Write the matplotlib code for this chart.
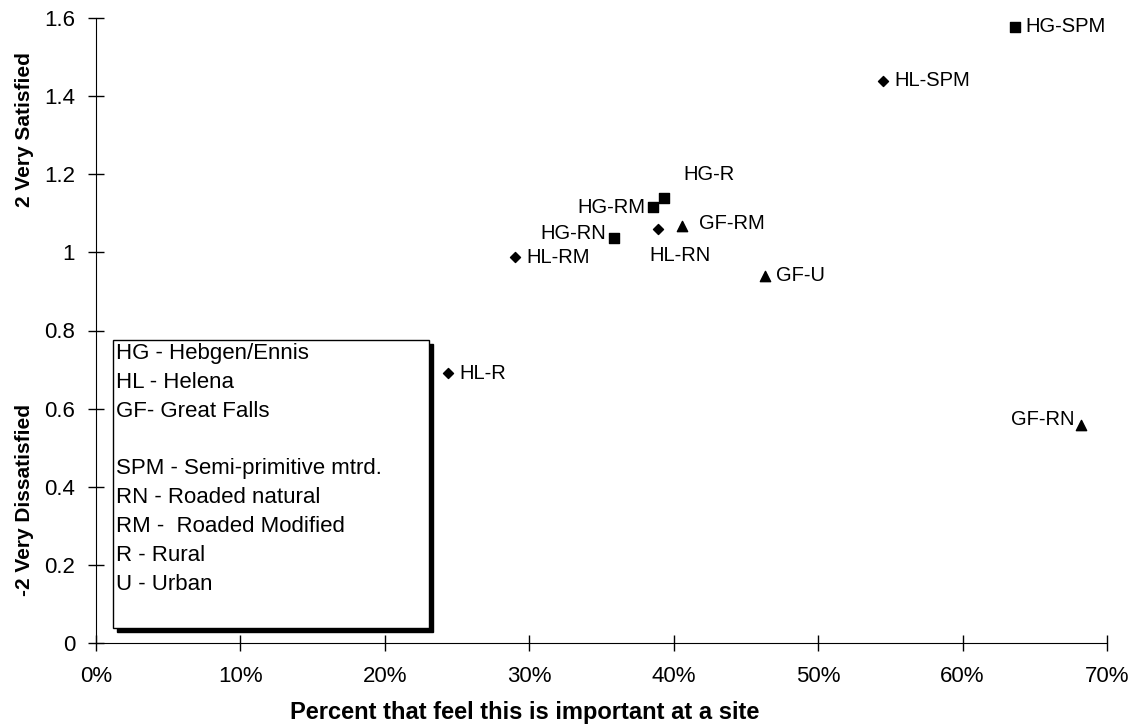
import numpy as np
import matplotlib.pyplot as plt
from matplotlib.patches import Rectangle
from matplotlib.ticker import FuncFormatter

plt.rcParams['font.family'] = ['Liberation Sans', 'DejaVu Sans']

# Hebgen/Ennis sites (squares)
hg_names = ['HG-SPM', 'HG-R', 'HG-RM', 'HG-RN']
hg_pct = [0.636, 0.393, 0.386, 0.359]
hg_sat = [1.577, 1.139, 1.116, 1.037]

# Helena sites (diamonds)
hl_names = ['HL-SPM', 'HL-RN', 'HL-RM', 'HL-R']
hl_pct = [0.545, 0.389, 0.290, 0.244]
hl_sat = [1.439, 1.060, 0.988, 0.691]

# Great Falls sites (triangles)
gf_names = ['GF-RM', 'GF-U', 'GF-RN']
gf_pct = [0.406, 0.463, 0.682]
gf_sat = [1.068, 0.940, 0.558]

# where each label sits relative to its point (offset in points, ha, va)
label_pos = {
    'HG-SPM': ((8, 0), 'left', 'center'),
    'HG-R': ((14, 10), 'left', 'bottom'),
    'HG-RM': ((-6, 0), 'right', 'center'),
    'HG-RN': ((-6, 3), 'right', 'center'),
    'HL-SPM': ((8, 0), 'left', 'center'),
    'HL-RN': ((16, -12), 'center', 'top'),
    'HL-RM': ((8, 0), 'left', 'center'),
    'HL-R': ((8, 0), 'left', 'center'),
    'GF-RM': ((12, 2), 'left', 'center'),
    'GF-U': ((8, 0), 'left', 'center'),
    'GF-RN': ((-5, 4), 'right', 'center'),
}

W, H = 1136, 727
fig = plt.figure(figsize=(W / 100, H / 100), dpi=100)
ax = fig.add_axes([96 / W, 1 - 643 / H, 1011 / W, 625 / H])

ax.scatter(hg_pct, hg_sat, marker='s', s=50, c='black', zorder=3)
ax.scatter(hl_pct, hl_sat, marker='D', s=26, c='black', zorder=3)
ax.scatter(gf_pct, gf_sat, marker='^', s=55, c='black', zorder=3)

for names, xs, ys in [(hg_names, hg_pct, hg_sat), (hl_names, hl_pct, hl_sat),
                      (gf_names, gf_pct, gf_sat)]:
    for n, x, y in zip(names, xs, ys):
        off, ha, va = label_pos[n]
        ax.annotate(n, (x, y), xytext=off, textcoords='offset points',
                    ha=ha, va=va, fontsize=14.5)

ax.set_xlim(0, 0.7)
ax.set_ylim(0, 1.6)
ax.set_xticks(np.arange(0, 0.71, 0.1))
ax.set_yticks(np.arange(0, 1.61, 0.2))
ax.xaxis.set_major_formatter(FuncFormatter(lambda v, p: '%d%%' % round(v * 100)))
ax.yaxis.set_major_formatter(FuncFormatter(lambda v, p: ('%g' % round(v, 1))))
ax.tick_params(direction='inout', length=11, width=1, labelsize=16)
ax.tick_params(axis='y', pad=9.5)
ax.tick_params(axis='x', pad=11)
for side in ['top', 'right']:
    ax.spines[side].set_visible(False)

fig.text(525 / W, 1 - 712 / H, 'Percent that feel this is important at a site',
         ha='center', va='center', fontsize=17, fontweight='bold')
fig.text(25 / W, 1 - 130 / H, '2 Very Satisfied', rotation=90, ha='center',
         va='center', fontsize=15, fontweight='bold')
fig.text(25 / W, 1 - 500 / H, '-2 Very Dissatisfied', rotation=90, ha='center',
         va='center', fontsize=15, fontweight='bold')

# key box with a drop shadow
bx, by, bw, bh = 113 / W, 1 - 628 / H, 316 / W, 288 / H
fig.patches.append(Rectangle((bx + 4 / W, by - 4 / H), bw, bh,
                             transform=fig.transFigure, facecolor='black',
                             edgecolor='black', zorder=4))
fig.patches.append(Rectangle((bx, by), bw, bh, transform=fig.transFigure,
                             facecolor='white', edgecolor='black', lw=1, zorder=5))
key = ('HG - Hebgen/Ennis\nHL - Helena\nGF- Great Falls\n\n'
       'SPM - Semi-primitive mtrd.\nRN - Roaded natural\n'
       'RM -  Roaded Modified\nR - Rural\nU - Urban')
fig.text(bx + 3 / W, 1 - 343 / H, key, ha='left', va='top', fontsize=16,
         linespacing=1.49, zorder=6)

fig.savefig('out.png', dpi=100)
